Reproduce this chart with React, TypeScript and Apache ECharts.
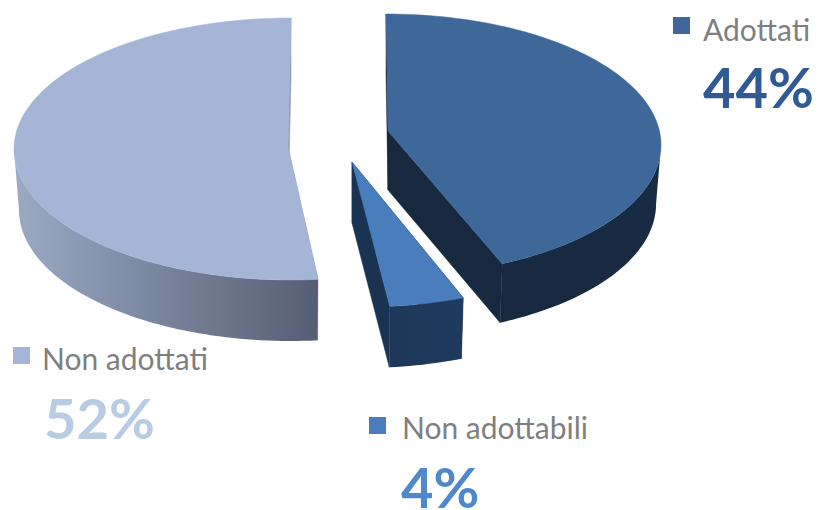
import React, { useEffect, useRef } from "react";
import * as echarts from "echarts";

const categories = ["Non adottati", "Adottati", "Non adottabili"];
const values = [52, 44, 4];
// Order of the slices round the pie, clockwise from twelve o'clock
const pieOrder = [1, 2, 0];

const topColors = ["#a5b5d6", "#3d6899", "#4a7dbb"];
const cutColors = ["#8b99b5", "#17293f", "#1a3352"];
const sideColors = [
  ["#9ba9c4", "#555e73"],
  ["#17293f", "#182b43"],
  ["#1e3859", "#1f3a5d"],
];
const labelColors = ["#b8cce4", "#2f5a94", "#4f88cc"];

// Slice placement on the page (exploded pie with a little perspective)
const geometry = [
  { cx: 291, cy: 149, rx: 277, ry: 131, ax: 288, ay: 147, depth: 61, startAdj: 1.6, endAdj: 0 },
  { cx: 386, cy: 145, rx: 275, ry: 131, ax: 388, ay: 131, depth: 59, startAdj: 0, endAdj: -3.4 },
  { cx: 362, cy: 176, rx: 275, ry: 131, ax: 352, ay: 162, depth: 61, startAdj: 0, endAdj: 1.4 },
];
const BOTTOM_RX = 0.982;

const legendLayout = [
  { sx: 13, sy: 347, tx: 42, ty: 358, px: 44, py: 417 },
  { sx: 673, sy: 17, tx: 703, ty: 29, px: 703, py: 86 },
  { sx: 369, sy: 417, tx: 402, ty: 427, px: 401, py: 486 },
];
const SQUARE = 17;
const FONT = "Lato, Carlito, 'Open Sans', sans-serif";

const total = values.reduce((a, b) => a + b, 0);
const angleRanges: Record<number, [number, number]> = {};
{
  let acc = 0;
  pieOrder.forEach((i) => {
    const next = acc + (values[i] / total) * 360;
    angleRanges[i] = [acc + geometry[i].startAdj, next + geometry[i].endAdj];
    acc = next;
  });
}

const rad = (d: number) => (d * Math.PI) / 180;

function renderSlice(params: any, api: any) {
  const i = params.dataIndex;
  const g = geometry[i];
  const [a0, a1] = angleRanges[i];
  const at = (deg: number, lower: boolean): number[] => [
    g.cx + (lower ? BOTTOM_RX : 1) * g.rx * Math.sin(rad(deg)),
    g.cy + g.ry * Math.cos(rad(deg)) * -1 + (lower ? g.depth : 0),
  ];
  const arc = (from: number, to: number, lower: boolean) => {
    const n = Math.max(2, Math.ceil(Math.abs(to - from) / 1.5));
    const pts: number[][] = [];
    for (let k = 0; k <= n; k++) pts.push(at(from + ((to - from) * k) / n, lower));
    return pts;
  };
  const apex = [g.ax, g.ay];
  const apexLow = [g.ax, g.ay + g.depth];
  const children: any[] = [];
  const cut = (deg: number) => ({
    type: "polygon",
    shape: { points: [apex, at(deg, false), at(deg, true), apexLow] },
    style: { fill: cutColors[i], stroke: cutColors[i], lineWidth: 0.5 },
  });
  children.push(cut(a0), cut(a1));
  const s0 = Math.max(a0, 90);
  const s1 = Math.min(a1, 270);
  if (s1 > s0) {
    children.push({
      type: "polygon",
      shape: { points: [...arc(s0, s1, false), ...arc(s1, s0, true)] },
      style: {
        fill: new echarts.graphic.LinearGradient(
          0,
          0,
          1,
          0,
          sideColors[i].map((color: string, k: number) => ({ offset: k, color }))
        ),
      },
    });
  }
  children.push({
    type: "polygon",
    shape: { points: [apex, ...arc(a0, a1, false)] },
    style: { fill: topColors[i], stroke: topColors[i], lineWidth: 0.5 },
  });
  return { type: "group", children };
}

export default function App() {
  const ref = useRef<HTMLDivElement>(null);
  useEffect(() => {
    document.body.style.margin = "0";
    const chart = echarts.init(ref.current!, undefined, { renderer: "svg" });
    const graphics: any[] = [];
    categories.forEach((name, i) => {
      const l = legendLayout[i];
      graphics.push({
        type: "rect",
        shape: { x: l.sx, y: l.sy, width: SQUARE, height: SQUARE },
        style: { fill: topColors[i] },
      });
      graphics.push({
        type: "text",
        x: l.tx,
        y: l.ty,
        style: {
          text: name,
          fill: "#7f7f7f",
          font: `30px ${FONT}`,
          textVerticalAlign: "middle",
        },
      });
      graphics.push({
        type: "text",
        x: l.px,
        y: l.py,
        style: {
          text: `${values[i]}%`,
          fill: labelColors[i],
          font: `bold 56px ${FONT}`,
          textVerticalAlign: "middle",
        },
      });
    });
    chart.setOption({
      animation: false,
      backgroundColor: "#ffffff",
      graphic: graphics,
      series: [
        {
          type: "custom",
          coordinateSystem: "none",
          renderItem: renderSlice,
          data: values.map((v) => [v]),
          clip: false,
        },
      ],
    });
    return () => chart.dispose();
  }, []);
  return <div ref={ref} style={{ position: "absolute", left: 0, top: 0, width: 818, height: 510 }} />;
}
